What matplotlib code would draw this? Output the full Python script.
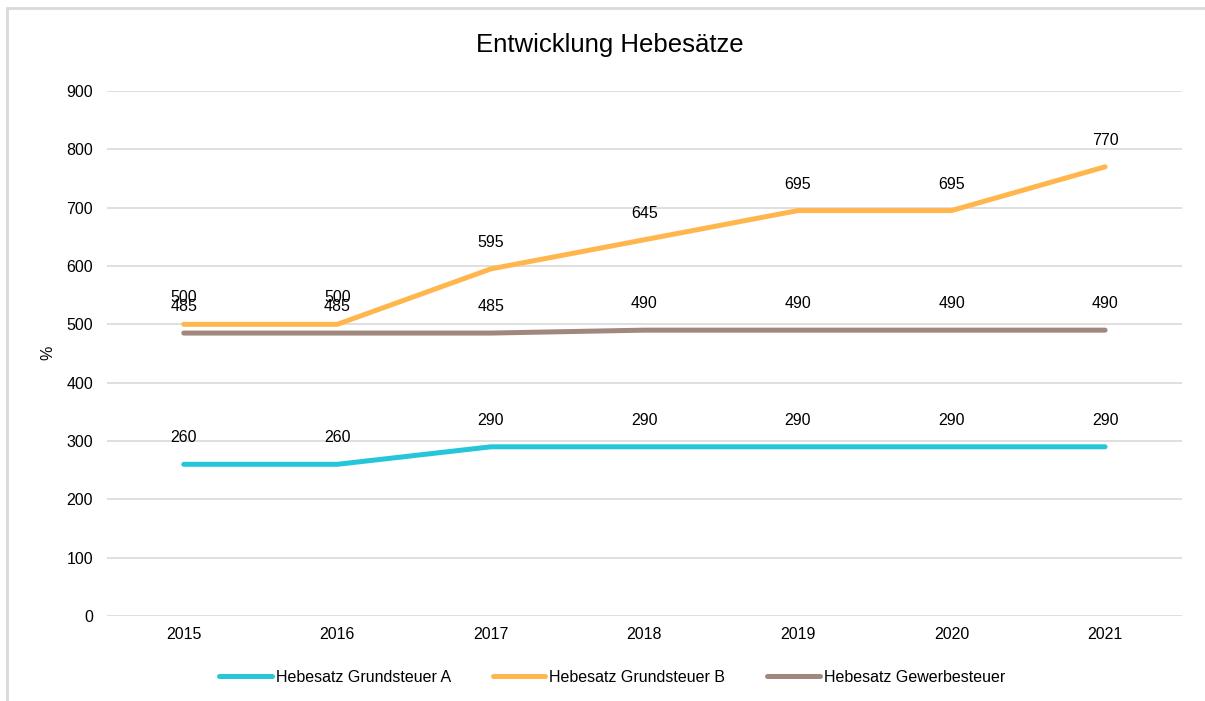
import matplotlib.pyplot as plt
from matplotlib.patches import Rectangle

plt.rcParams['font.family'] = ['Liberation Sans', 'DejaVu Sans']

years = ["2015", "2016", "2017", "2018", "2019", "2020", "2021"]
grundsteuer_a = [260, 260, 290, 290, 290, 290, 290]
grundsteuer_b = [500, 500, 595, 645, 695, 695, 770]
gewerbesteuer = [485, 485, 485, 490, 490, 490, 490]

series = [
    ("Hebesatz Grundsteuer A", grundsteuer_a, "#26C6DA"),
    ("Hebesatz Grundsteuer B", grundsteuer_b, "#FFB74D"),
    ("Hebesatz Gewerbesteuer", gewerbesteuer, "#A1887F"),
]

fig = plt.figure(figsize=(12.05, 7.01), dpi=100)
ax = fig.add_axes([0.0888, 0.1213, 0.892, 0.7489])

# outer chart border (cropped on right/bottom)
fig.patches.append(Rectangle((7 / 1205, -0.1), 1.2, 1 - 8 / 701 + 0.1,
                             transform=fig.transFigure, fill=False,
                             edgecolor="#D9D9D9", linewidth=2))

x = list(range(len(years)))
for name, vals, color in series:
    ax.plot(x, vals, color=color, linewidth=3.6, label=name,
            solid_capstyle="round", zorder=3)
    for xi, v in zip(x, vals):
        ax.annotate(str(v), (xi, v), xytext=(0, 19), textcoords="offset points",
                    ha="center", va="center", fontsize=11.5, color="#000000")

ax.set_xlim(-0.5, 6.5)
ax.set_ylim(0, 900)
ax.set_yticks(range(0, 901, 100))
ax.set_xticks(x)
ax.set_xticklabels(years)
ax.grid(axis="y", color="#D9D9D9", linewidth=1.2)
ax.set_axisbelow(True)
for s in ax.spines.values():
    s.set_visible(False)
ax.tick_params(axis="both", length=0, labelsize=11.5, colors="#000000")
ax.tick_params(axis="y", pad=10)
ax.tick_params(axis="x", pad=8)

fig.text(48 / 1205, 1 - 353 / 701, "%", rotation=90, ha="center", va="center", fontsize=11.5)
fig.text(0.506, 1 - 45 / 701, "Entwicklung Hebesätze", ha="center", va="center", fontsize=18.5)

fig.legend(loc="center", bbox_to_anchor=(0.508, 1 - 677 / 701), ncol=3,
           frameon=False, fontsize=11.5, handlelength=3.3, handletextpad=0.25,
           columnspacing=2.6)

fig.savefig("out.png", dpi=100)
